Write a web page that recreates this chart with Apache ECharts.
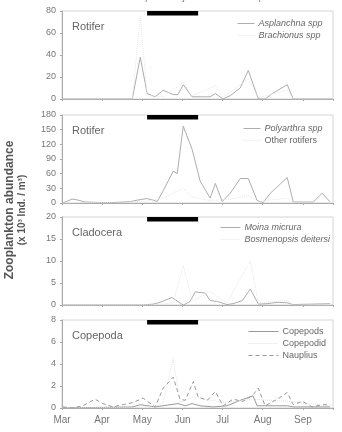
<!DOCTYPE html>
<html>
<head>
<meta charset="utf-8">
<script src="https://cdn.jsdelivr.net/npm/echarts@6/dist/echarts.min.js"></script>
<style>
  html, body { margin: 0; padding: 0; background: #fff; }
  #chart { width: 342px; height: 432px; }
</style>
</head>
<body>
<div id="chart"></div>
<script>
// x values are months after 1 March (0 = Mar, 1 = Apr ...)
const monthLabels = ["Mar", "Apr", "May", "Jun", "Jul", "Aug", "Sep"];
const juvenilePeriod = [2.12, 3.39];

// Rotifer (top)
const asplanchna = [[0.02,0],[0.95,0],[1.75,0],[1.95,38],[2.12,5],[2.32,2],[2.52,8],[2.77,4],[2.89,4],[3.02,13],[3.24,2],[3.44,2],[3.69,2],[3.82,5],[4.01,0],[4.19,3],[4.44,10],[4.64,26],[4.89,0],[5.06,0],[5.24,5],[5.61,13],[5.76,0],[6.73,0]];
const brachionus = [[0.02,0],[0.95,0],[1.75,0],[1.95,75],[2.12,3],[2.52,2],[3.02,15],[3.24,3],[3.82,12],[4.01,2],[4.64,18],[4.89,1],[5.61,8],[5.76,0],[6.73,0]];

// Rotifer (second)
const polyarthra = [[0.02,0],[0.25,8],[0.4,6],[0.57,2],[0.95,1],[1.32,1],[1.7,3],[1.95,7],[2.12,9],[2.27,6],[2.37,3],[2.52,25],[2.77,65],[2.87,60],[3.02,157],[3.24,110],[3.44,45],[3.69,10],[3.82,40],[3.99,3],[4.19,20],[4.44,50],[4.64,50],[4.86,5],[5.01,1],[5.19,20],[5.61,52],[5.76,2],[6.26,2],[6.48,20],[6.68,2]];
const otherRotifers = [[0.02,0],[1.7,2],[2.12,4],[2.52,10],[2.77,20],[3.02,30],[3.24,12],[3.69,5],[4.19,8],[4.64,15],[4.89,3],[5.61,10],[5.76,1],[6.68,1]];

// Cladocera
const moina = [[0.02,0],[2.02,0],[2.27,0.2],[2.44,0.6],[2.74,1.7],[3.02,0],[3.19,0.8],[3.32,3],[3.57,2.7],[3.69,1],[3.87,0.8],[4.11,0.1],[4.26,0.3],[4.49,1],[4.69,3.6],[4.89,0.2],[5.11,0.3],[5.36,0.6],[5.61,0.5],[5.76,0.1],[6.68,0.3]];
const bosminopsis = [[0.02,0],[2.27,0],[2.77,0.5],[3.02,9],[3.24,1],[3.69,3],[4.11,0.5],[4.69,10],[4.89,0.5],[5.61,1],[5.76,0],[6.68,0]];

// Copepoda
const copepods = [[0.02,0],[1.77,0.1],[1.95,0.3],[2.32,0.1],[2.89,0.4],[3.07,0.2],[3.24,0.4],[3.44,0.2],[3.77,0.1],[4.11,0.2],[4.44,0.7],[4.76,1.1],[4.86,0.2],[5.61,0.2],[5.76,0.1],[6.68,0.1]];
const copepodid = [[0.02,0],[2.32,0.1],[2.52,0.5],[2.77,4.5],[2.94,0.5],[3.27,1],[4.0,0.5],[4.76,0.8],[5.61,0.6],[6.68,0.2]];
const nauplius = [[0.02,0.1],[0.25,0],[0.52,0.2],[0.82,0.8],[1.02,0.4],[1.27,0.1],[1.52,0.3],[1.77,0.5],[2.02,0.9],[2.32,0.1],[2.52,1.8],[2.77,2.8],[2.94,0.8],[3.07,0.7],[3.27,2.4],[3.39,1.0],[3.62,0.7],[3.82,1.5],[4.01,0.2],[4.26,0.8],[4.51,0.6],[4.76,1.2],[4.89,1.8],[5.06,0.2],[5.36,0.8],[5.61,1.4],[5.76,0.3],[5.99,0.6],[6.23,0.1],[6.48,0.3],[6.68,0.3]];

const yMax = [80, 180, 20, 8];
const yStep = [20, 30, 5, 2];
const panelNames = ["Rotifer", "Rotifer", "Cladocera", "Copepoda"];
const gridTops = [11, 115, 217, 320];

const chart = echarts.init(document.getElementById("chart"));
const font = "Liberation Sans, Arial, sans-serif";

const grids = gridTops.map(t => ({
  left: 62, right: 9, top: t, height: 88,
  show: true, borderColor: "#d4d4d4", borderWidth: 1
}));

const xAxes = gridTops.map((t, i) => ({
  type: "value", gridIndex: i, min: 0, max: 6.75, interval: 1,
  axisLine: { lineStyle: { color: "#aaa" } },
  axisTick: { show: true, length: 2, lineStyle: { color: "#aaa" } },
  splitLine: { show: false },
  axisLabel: {
    show: i === 3, fontSize: 10, color: "#777", fontFamily: font, margin: 7,
    formatter: v => (Number.isInteger(v) ? monthLabels[v] || "" : "")
  }
}));

const yAxes = yMax.map((m, i) => ({
  type: "value", gridIndex: i, min: 0, max: m, interval: yStep[i],
  axisLine: { show: true, lineStyle: { color: "#aaa" } },
  axisTick: { show: true, length: 2, lineStyle: { color: "#aaa" } },
  splitLine: { show: false },
  axisLabel: { fontSize: 9, color: "#777", fontFamily: font, margin: 6 }
}));

function lineSeries(name, data, idx, color, type) {
  return {
    name: name, type: "line", data: data, xAxisIndex: idx, yAxisIndex: idx,
    symbol: "none", animation: false,
    lineStyle: { color: color, width: 1, type: type || "solid" },
    itemStyle: { color: color }
  };
}

const series = [
  lineSeries("Asplanchna spp", asplanchna, 0, "#adadad"),
  lineSeries("Brachionus spp", brachionus, 0, "#e6e6e6", "dotted"),
  lineSeries("Polyarthra spp", polyarthra, 1, "#adadad"),
  lineSeries("Other rotifers", otherRotifers, 1, "#e6e6e6", "dotted"),
  lineSeries("Moina micrura", moina, 2, "#adadad"),
  lineSeries("Bosmenopsis deitersi", bosminopsis, 2, "#e6e6e6", "dotted"),
  lineSeries("Copepods", copepods, 3, "#999"),
  lineSeries("Copepodid", copepodid, 3, "#e2e2e2", "dotted"),
  lineSeries("Nauplius", nauplius, 3, "#999", [4, 3])
];

// black bars: period of juvenile fish development
yMax.forEach((m, i) => {
  series.push({
    type: "line", xAxisIndex: i, yAxisIndex: i, symbol: "none", silent: true,
    clip: false, animation: false, z: 10,
    data: [[juvenilePeriod[0], m * 0.975], [juvenilePeriod[1], m * 0.975]],
    lineStyle: { color: "#000", width: 4.5, cap: "butt" }
  });
});

function legendBox(names, left, top, w, italic) {
  return {
    orient: "vertical", left: left, top: top, itemWidth: w, itemHeight: 8,
    itemGap: 3, padding: 0, selectedMode: false,
    itemStyle: { opacity: 0 },
    lineStyle: { width: 1 },
    textStyle: { fontSize: 9, color: "#666", fontFamily: font, padding: [0, 0, 0, -1] },
    data: names.map((n, k) => ({ name: n, textStyle: { fontStyle: italic[k] ? "italic" : "normal" } }))
  };
}

const option = {
  backgroundColor: "#fff",
  animation: false,
  grid: grids,
  xAxis: xAxes,
  yAxis: yAxes,
  series: series,
  legend: [
    legendBox(["Asplanchna spp", "Brachionus spp"], 237, 19, 17, [true, true]),
    legendBox(["Polyarthra spp", "Other rotifers"], 243, 124, 17, [true, false]),
    legendBox(["Moina micrura", "Bosmenopsis deitersi"], 220, 223, 20, [true, true]),
    legendBox(["Copepods", "Copepodid", "Nauplius"], 248, 327, 30, [false, false, false])
  ],
  title: panelNames.map((n, i) => ({
    text: n, left: 72, top: gridTops[i] + 10, padding: 0,
    textStyle: { fontSize: 11, fontWeight: "normal", color: "#666", fontFamily: font }
  })),
  graphic: [
    {
      type: "text", position: [215, -3],
      style: { text: "period of juvenile fish development", font: "italic 9px " + font, fill: "#777", textAlign: "center", textVerticalAlign: "middle" }
    },
    {
      type: "text", rotation: Math.PI / 2, position: [10, 210],
      style: { text: "Zooplankton abundance", font: "bold 12px " + font, fill: "#555", textAlign: "center", textVerticalAlign: "middle" }
    },
    {
      type: "text", rotation: Math.PI / 2, position: [22, 210],
      style: { text: "(x 10³ Ind. / m³)", font: "bold 10px " + font, fill: "#555", textAlign: "center", textVerticalAlign: "middle" }
    }
  ]
};

chart.setOption(option);
</script>
</body>
</html>
